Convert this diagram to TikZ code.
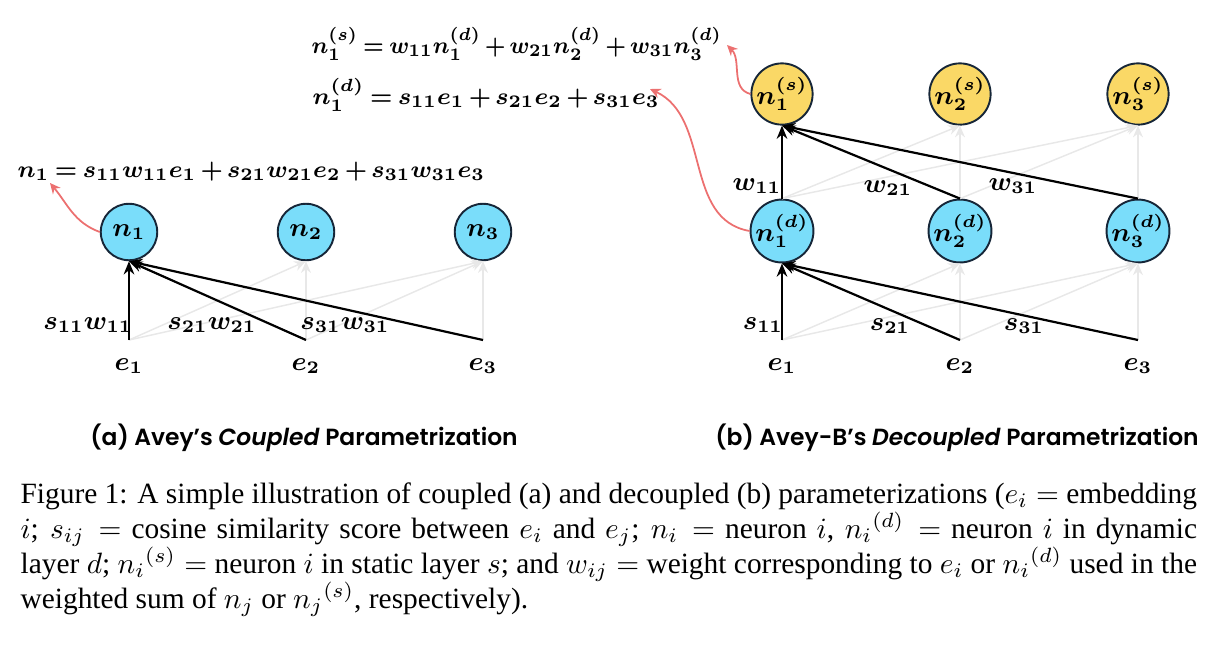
\documentclass[tikz,border=0pt]{standalone}
\usepackage{amsmath,bm,graphicx}
\usepackage{fontspec}
\setmainfont{Liberation Serif}
\newfontfamily\capsans{Poppins SemiBold}[ItalicFont={Poppins SemiBold Italic}]
\usetikzlibrary{arrows.meta}
\newcommand\tightmath{\medmuskip=3mu\relax\thickmuskip=4mu\relax}
\definecolor{nblue}{RGB}{122,221,250}
\definecolor{nyellow}{RGB}{250,216,102}
\definecolor{nborder}{RGB}{22,38,56}
\definecolor{redarr}{RGB}{236,112,112}
\definecolor{faint}{RGB}{232,232,232}
\tikzset{
  neuron/.style={circle, draw=nborder, line width=0.65pt, minimum size=19.2pt, inner sep=0pt, font=\fontsize{9.2}{9.2}\selectfont},
  dyn/.style={neuron, fill=nblue},
  stat/.style={neuron, fill=nyellow},
  strong/.style={line width=0.75pt, -{Stealth[length=4.5pt,width=3.6pt]}},
  weak/.style={draw=faint, line width=0.5pt, -{Stealth[length=4pt,width=3.4pt]}},
  hint/.style={draw=redarr, line width=0.6pt, -{Stealth[length=3.6pt,width=3.4pt]}},
  lbl/.style={inner sep=0pt, font=\fontsize{9}{9}\selectfont},
  eqn/.style={inner sep=0pt, anchor=base west, font=\fontsize{7.9}{7.9}\selectfont\tightmath},
  sub/.style={inner sep=0pt, font=\capsans\fontsize{7.95}{7.95}\selectfont},
}
\begin{document}
\begin{tikzpicture}[x=0.34pt, y=-0.34pt]
\useasboundingbox (0,0) rectangle (1219,645);
% ---------- panel (a)
\node[dyn] (a1) at (129,232) {$\bm{n_1}$};
\node[dyn] (a2) at (306,232) {$\bm{n_2}$};
\node[dyn] (a3) at (483,232) {$\bm{n_3}$};
\coordinate (ae1) at (129,340);
\coordinate (ae2) at (306,340);
\coordinate (ae3) at (483,340);
\node[lbl] (ae1l) at (129,366) {$\bm{e_1}$};
\node[lbl] (ae2l) at (306,366) {$\bm{e_2}$};
\node[lbl] (ae3l) at (483,366) {$\bm{e_3}$};
\draw[weak] (ae1) -- (a2.south);
\draw[weak] (ae1) -- (a3.south);
\draw[weak] (ae2) -- (a2.south);
\draw[weak] (ae2) -- (a3.south);
\draw[weak] (ae3) -- (a3.south);
\draw[strong] (ae1) -- (a1.south);
\draw[strong] (ae2) -- (a1.south);
\draw[strong] (ae3) -- (a1.south);
\node[lbl] (la1) at (88,325) {$\bm{s_{11}w_{11}}$};
\node[lbl] (la2) at (212,325) {$\bm{s_{21}w_{21}}$};
\node[lbl] (la3) at (345,325) {$\bm{s_{31}w_{31}}$};
\node[eqn] (eqa) at (17,177) {$\bm{n_1 = s_{11}w_{11}e_1 + s_{21}w_{21}e_2 + s_{31}w_{31}e_3}$};
\coordinate (ta) at (50,183);
\draw[hint] (a1.west) to[out=160, in=-50] (ta);
% ---------- panel (b)
\node[stat] (s1) at (782,94) {$\bm{n_1^{(s)}}$};
\node[stat] (s2) at (960,94) {$\bm{n_2^{(s)}}$};
\node[stat] (s3) at (1138,94) {$\bm{n_3^{(s)}}$};
\node[dyn] (d1) at (782,231) {$\bm{n_1^{(d)}}$};
\node[dyn] (d2) at (960,231) {$\bm{n_2^{(d)}}$};
\node[dyn] (d3) at (1138,231) {$\bm{n_3^{(d)}}$};
\coordinate (be1) at (782,340);
\coordinate (be2) at (960,340);
\coordinate (be3) at (1138,340);
\node[lbl] (be1l) at (782,366) {$\bm{e_1}$};
\node[lbl] (be2l) at (960,366) {$\bm{e_2}$};
\node[lbl] (be3l) at (1138,366) {$\bm{e_3}$};
\draw[weak] (be1) -- (d2.south);
\draw[weak] (be1) -- (d3.south);
\draw[weak] (be2) -- (d2.south);
\draw[weak] (be2) -- (d3.south);
\draw[weak] (be3) -- (d3.south);
\draw[weak] (d1.north) -- (s2.south);
\draw[weak] (d1.north) -- (s3.south);
\draw[weak] (d2.north) -- (s2.south);
\draw[weak] (d2.north) -- (s3.south);
\draw[weak] (d3.north) -- (s3.south);
\draw[strong] (be1) -- (d1.south);
\draw[strong] (be2) -- (d1.south);
\draw[strong] (be3) -- (d1.south);
\draw[strong] (d1.north) -- (s1.south);
\draw[strong] (d2.north) -- (s1.south);
\draw[strong] (d3.north) -- (s1.south);
\node[lbl] (lw1) at (757,186) {$\bm{w_{11}}$};
\node[lbl] (lw2) at (888,188) {$\bm{w_{21}}$};
\node[lbl] (lw3) at (1013,186) {$\bm{w_{31}}$};
\node[lbl] (ls1) at (763,325) {$\bm{s_{11}}$};
\node[lbl] (ls2) at (890,326) {$\bm{s_{21}}$};
\node[lbl] (ls3) at (1024,326) {$\bm{s_{31}}$};
\node[eqn] (eqb1) at (311,53) {\scalebox{0.93}[1]{$\bm{n_1^{(s)} = w_{11}n_1^{(d)} + w_{21}n_2^{(d)} + w_{31}n_3^{(d)}}$}};
\node[eqn] (eqb2) at (312,104) {$\bm{n_1^{(d)} = s_{11}e_1 + s_{21}e_2 + s_{31}e_3}$};
\coordinate (tb1) at (727,45);
\coordinate (tb2) at (650,89);
\draw[hint] (s1.west) to[out=165, in=-45] (tb1);
\draw[hint] (d1.west) to[out=170, in=-25] (tb2);
% ---------- subtitles
\node[sub] (capa) at (304,438) {(a) Avey’s \textit{Coupled} Parametrization};
\node[sub] (capb) at (957,438) {(b) Avey-B’s \textit{Decoupled} Parametrization};
% ---------- caption
\node[anchor=north west, inner sep=0pt, text width=400pt, align=justify,
      font=\fontsize{10}{11.9}\selectfont] (cap) at (20,482)
 {\hbadness=10000 Figure 1: A simple illustration of coupled (a) and decoupled (b) parameterizations ($e_i =$ embedding\linebreak
 $i$; $s_{ij} =$ cosine similarity score between $e_i$ and $e_j$; $n_i =$ neuron $i$, ${n_i}^{(d)} =$ neuron $i$ in dynamic\linebreak
 layer $d$; ${n_i}^{(s)} =$ neuron $i$ in static layer $s$; and $w_{ij} =$ weight corresponding to $e_i$ or ${n_i}^{(d)}$ used in the\linebreak
 weighted sum of $n_j$ or ${n_j}^{(s)}$, respectively).};
\end{tikzpicture}
\end{document}
